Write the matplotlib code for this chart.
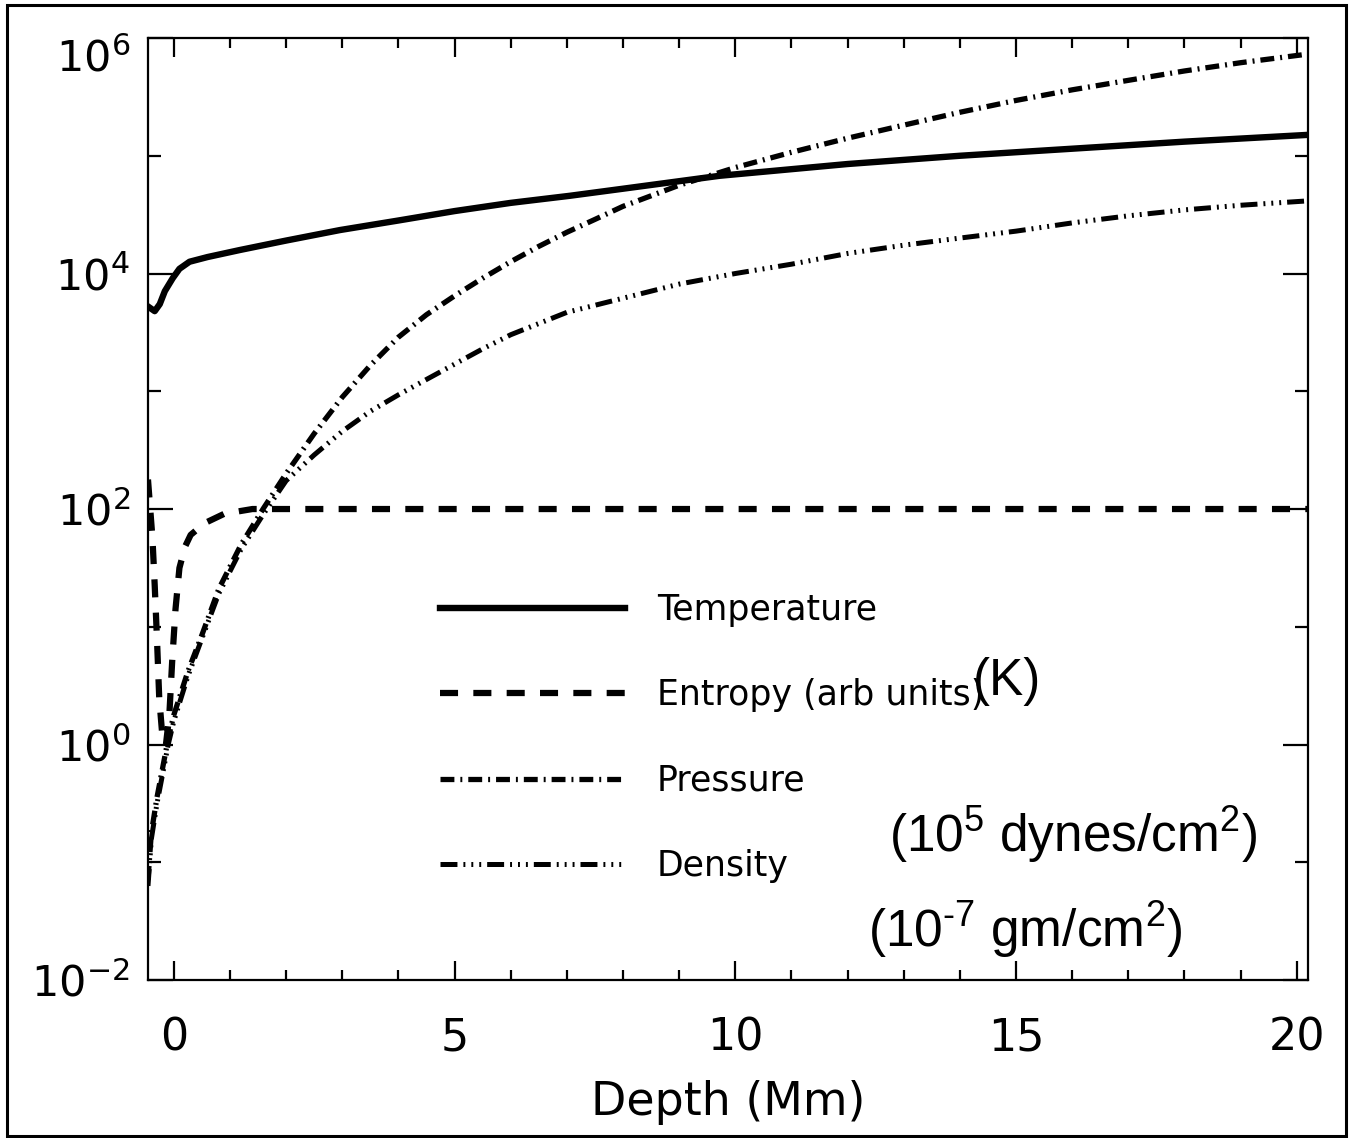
import matplotlib
matplotlib.use("Agg")
import matplotlib.pyplot as plt
import matplotlib.ticker as mticker
from matplotlib.patches import Rectangle

plt.rcParams["font.family"] = "DejaVu Sans"
plt.rcParams["lines.scale_dashes"] = False

# ── DATA (depth in Mm) ──────────────────────────────────────
temp_depth = [-0.46, -0.34, -0.25, -0.16, -0.02, 0.1, 0.28, 0.6, 1.18, 2.0,
              2.96, 4.0, 5.0, 6.0, 7.05, 8.0, 9.72, 12.0, 14.0, 16.0, 18.0, 20.3]
temperature = [5250, 4790, 5500, 7080, 9120, 10960, 12590, 13800, 15850, 19050,
               23400, 28200, 33900, 39800, 45700, 52500, 67600, 85100, 100000,
               114800, 131800, 151400]

ent_depth = [-0.46, -0.42, -0.38, -0.34, -0.3, -0.26, -0.2, -0.14, -0.08, -0.03,
             0.03, 0.1, 0.2, 0.3, 0.55, 0.9, 1.4, 20.3]
entropy = [178, 100, 56, 22.4, 7.9, 2.5, 1.12, 1.0, 1.78, 5.0,
           14.1, 31.6, 47.9, 60.3, 75.9, 91.2, 100, 100]

p_depth = [-0.46, -0.4, -0.3, -0.2, -0.1, 0.0, 0.25, 0.5, 0.8, 1.2, 1.6, 2.0,
           2.5, 3.0, 3.5, 4.0, 4.5, 5.0, 5.5, 6.0, 6.5, 7.0, 7.5, 8.0, 9.0,
           10.0, 11.0, 12.0, 13.0, 14.0, 15.0, 16.0, 17.0, 18.0, 19.0, 20.3]
pressure = [0.071, 0.178, 0.355, 0.63, 1.12, 1.78, 4.17, 8.51, 20.9, 50.1, 102,
            200, 437, 891, 1660, 2880, 4470, 6460, 9120, 12600, 17000, 22400,
            28800, 37200, 56200, 79400, 107000, 141000, 182000, 234000, 295000,
            363000, 437000, 525000, 617000, 741000]

rho_depth = [-0.46, -0.4, -0.3, -0.2, -0.1, 0.0, 0.25, 0.5, 0.8, 1.2, 1.6, 2.0,
             2.5, 3.0, 3.5, 4.0, 4.5, 5.0, 5.5, 6.0, 7.0, 8.0, 9.0, 10.0,
             11.0, 12.0, 13.0, 14.0, 15.0, 16.0, 17.0, 18.0, 19.0, 20.3]
density = [0.063, 0.158, 0.316, 0.56, 1.0, 1.58, 3.8, 7.94, 19.1, 45.7, 91.2,
           174, 288, 457, 676, 933, 1260, 1700, 2290, 3020, 4680, 6170, 8130,
           10000, 12000, 14800, 17400, 20000, 22900, 26900, 30900, 34700,
           38000, 41700]

# ── FIGURE ──────────────────────────────────────────────────
fig = plt.figure(figsize=(13.49, 11.38), dpi=100)
ax = fig.add_axes([0.1097, 0.1388, 0.8599, 0.8278])

ax.plot(temp_depth, temperature, color="black", lw=4.6, label="Temperature")
ax.plot(ent_depth, entropy, color="black", lw=4.5, ls=(0, (13, 11)),
        label="Entropy (arb units)")
ax.plot(p_depth, pressure, color="black", lw=3.8,
        ls=(0, (10, 4.3, 1.4, 4.3)), label="Pressure")
ax.plot(rho_depth, density, color="black", lw=3.6,
        ls=(0, (12.2, 4.3, 1.4, 4.3, 1.4, 4.3, 1.4, 4.3)), label="Density")

ax.set_yscale("log")
ax.set_ylim(1e-2, 1e6)
ax.set_xlim(-0.46, 20.2)
ax.yaxis.set_major_locator(mticker.FixedLocator([1e-2, 1, 1e2, 1e4, 1e6]))
ax.yaxis.set_minor_locator(mticker.FixedLocator([1e-1, 1e1, 1e3, 1e5]))
ax.yaxis.set_minor_formatter(mticker.NullFormatter())
ax.xaxis.set_major_locator(mticker.MultipleLocator(5))
ax.xaxis.set_minor_locator(mticker.MultipleLocator(1))

ax.tick_params(which="both", direction="in", top=True, right=True, width=1.6)
ax.tick_params(axis="x", which="major", length=14, pad=26, labelsize=32)
ax.tick_params(axis="x", which="minor", length=7)
ax.tick_params(axis="y", which="major", length=18, pad=13, labelsize=31)
ax.tick_params(axis="y", which="minor", length=9.5)
for s in ax.spines.values():
    s.set_linewidth(1.6)

ax.set_xlabel("Depth (Mm)", fontsize=33, labelpad=15)

ax.legend(loc="upper left", bbox_to_anchor=(440 / 1349, 1 - 593 / 1138),
          bbox_transform=fig.transFigure, frameon=False, fontsize=25,
          handlelength=5.33, handletextpad=0.92, labelspacing=1.48,
          borderpad=0, borderaxespad=0)

# unit annotations pasted over the plot
ann = dict(family=["Liberation Sans", "DejaVu Sans"], size=37,
           ha="center", va="center")
fig.text(1007 / 1349, 1 - 682 / 1138, "(K)", **ann)
fig.text(1073 / 1349, 1 - 835 / 1138,
         r"(10$^{\mathregular{5}}$ dynes/cm$^{\mathregular{2}}$)", **ann)
fig.text(1025 / 1349, 1 - 930 / 1138,
         "(10$^{\\mathregular{\u20107}}$ gm/cm$^{\\mathregular{2}}$)", **ann)

# outer frame
fig.patches.append(Rectangle((7 / 1349, 2 / 1138), 1339 / 1349, 1131 / 1138,
                             transform=fig.transFigure, fill=False,
                             lw=2.2, ec="black"))

fig.canvas.draw()
ax.yaxis.get_major_ticks()[-1].label1.set_va("top")

fig.savefig("out.png", dpi=100)
